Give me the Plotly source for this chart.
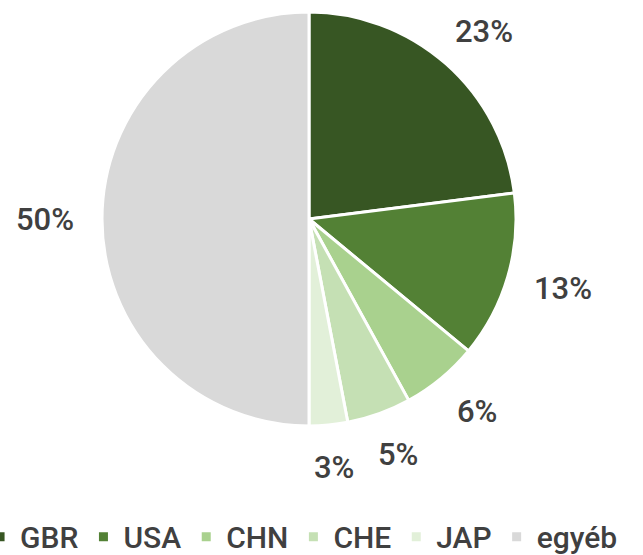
import math
import plotly.graph_objects as go

categories = ["GBR", "USA", "CHN", "CHE", "JAP", "egyéb"]
values = [23, 13, 6, 5, 3, 50]
colors = ["#375623", "#538135", "#a9d18e", "#c5e0b4", "#e2f0d9", "#d9d9d9"]

W, H = 643, 555
cx, cy, r = 309, 219, 207
label_rx, label_ry = 264, 250

fig = go.Figure(go.Pie(
    labels=categories,
    values=values,
    sort=False,
    direction="clockwise",
    rotation=0,
    marker=dict(colors=colors, line=dict(color="white", width=3)),
    textinfo="none",
    hoverinfo="label+percent",
    domain=dict(x=[(cx - r) / W, (cx + r) / W], y=[(H - cy - r) / H, (H - cy + r) / H]),
    automargin=False,
))

# percentage labels placed around the pie at the mid-angle of each slice
total = sum(values)
cum = 0
for v in values:
    mid = 90 - (cum + v / 2) / total * 360
    cum += v
    a = math.radians(mid)
    px = cx + label_rx * math.cos(a)
    py = cy - label_ry * math.sin(a)
    fig.add_annotation(
        x=px / W, y=1 - py / H, xref="paper", yref="paper",
        text=f"{v}%", showarrow=False, xanchor="center", yanchor="middle",
        font=dict(family="Roboto", size=31, color="#404040", weight=500),
    )

fig.update_layout(
    width=W, height=H,
    margin=dict(l=0, r=0, t=0, b=0, autoexpand=False),
    paper_bgcolor="white",
    showlegend=True,
    legend=dict(
        orientation="h",
        x=-0.031, xanchor="left",
        y=-0.014, yanchor="bottom",
        font=dict(family="Roboto", size=30, color="#404040", weight=500),
        itemwidth=30,
        tracegroupgap=0,
    ),
)

fig.write_html("out.html", config={"displayModeBar": False},
               post_script="document.body.style.margin='0';")
